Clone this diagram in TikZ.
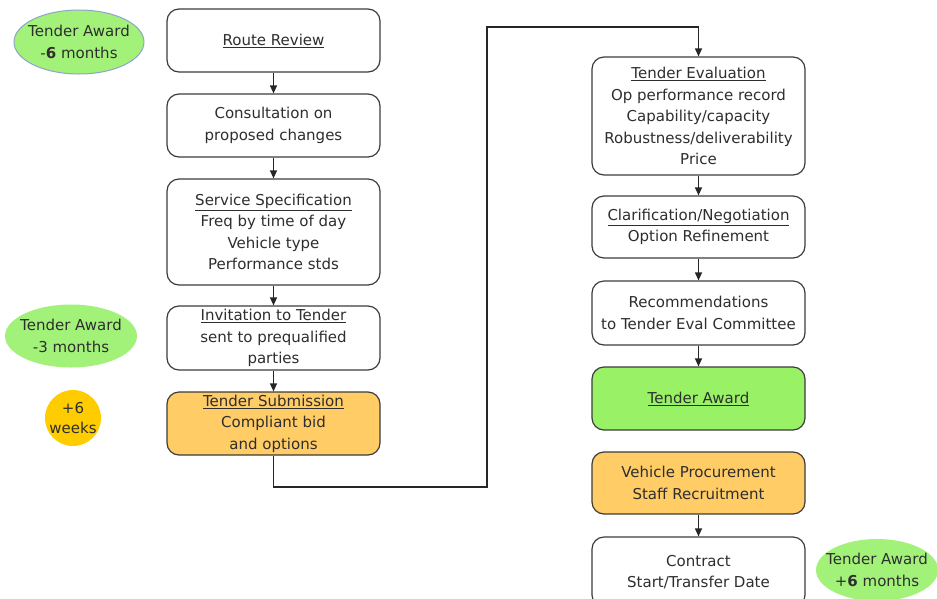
\documentclass[tikz,border=0pt]{standalone}
\usepackage{fontspec}
\setmainfont{DejaVu Sans}
\usetikzlibrary{shapes.geometric,arrows.meta}
\definecolor{txt}{HTML}{2E2E2E}
\definecolor{boxline}{HTML}{3C3C3C}
\definecolor{orangefill}{HTML}{FFCC66}
\definecolor{greenfill}{HTML}{99F266}
\definecolor{ellgreen}{HTML}{A2F27A}
\definecolor{goldfill}{HTML}{FFCC00}
\definecolor{ellborder}{HTML}{8FA3C8}
\begin{document}
\begin{tikzpicture}[x=1pt,y=-1pt,
  font=\fontsize{15}{21.5}\selectfont,
  box/.style={draw=boxline, line width=1.2pt, rounded corners=12pt,
    minimum width=213pt, inner sep=0pt, align=center, text=txt, fill=white},
  ell/.style={ellipse, fill=ellgreen, inner sep=0pt},
  elltext/.style={align=center, text=txt, inner sep=0pt},
  arr/.style={draw=black!85, line width=1.2pt, -{Triangle[length=8pt,width=7pt]}}]
\useasboundingbox (0,0) rectangle (937,598);
% left column
\node[box, minimum height=63pt] (route) at (273.5,40.5) {\underline{Route Review}};
\node[box, minimum height=63pt] (cons) at (273.5,125.5) {Consultation on\\proposed changes};
\node[box, minimum height=106pt] (spec) at (273.5,232) {\underline{Service Specification}\\Freq by time of day\\Vehicle type\\Performance stds};
\node[box, minimum height=64pt] (inv) at (273.5,338) {\underline{Invitation to Tender}\\sent to prequalified\\parties};
\node[box, minimum height=63pt, fill=orangefill] (sub) at (273.5,423.5) {\underline{Tender Submission}\\Compliant bid\\and options};
% right column
\node[box, minimum height=118pt] (eval) at (698.5,116) {\underline{Tender Evaluation}\\Op performance record\\Capability/capacity\\Robustness/deliverability\\Price};
\node[box, minimum height=62pt] (clar) at (698.5,227) {\underline{Clarification/Negotiation}\\Option Refinement};
\node[box, minimum height=64pt] (rec) at (698.5,313) {Recommendations\\to Tender Eval Committee};
\node[box, minimum height=63pt, fill=greenfill] (award) at (698.5,398.5) {\underline{Tender Award}};
\node[box, minimum height=62pt, fill=orangefill] (veh) at (698.5,483) {Vehicle Procurement\\Staff Recruitment};
\node[box, minimum height=70pt] (contract) at (698.5,572) {Contract\\Start/Transfer Date};
% timeline markers
\node[ell, draw=ellborder, line width=1pt, minimum width=130pt, minimum height=64pt] (m6) at (79,42) {};
\node[elltext] (m6t) at (m6.center) {Tender Award\\-\textbf{6} months};
\node[ell, minimum width=132pt, minimum height=63pt] (m3) at (71,336) {};
\node[elltext] (m3t) at (m3.center) {Tender Award\\-3 months};
\node[circle, fill=goldfill, minimum size=56pt, inner sep=0pt] (w6) at (73,418) {};
\node[elltext, font=\fontsize{15}{20}\selectfont] (w6t) at (w6.center) {+6\\weeks};
\node[ell, minimum width=122pt, minimum height=62pt] (p6) at (877,570) {};
\node[elltext] (p6t) at (p6.center) {Tender Award\\+\textbf{6} months};
% connectors
\draw[arr] (route) -- (cons);
\draw[arr] (cons) -- (spec);
\draw[arr] (spec) -- (inv);
\draw[arr] (inv) -- (sub);
\coordinate (c1) at (487,487);
\coordinate (c2) at (487,27);
\draw[arr] (sub.south) -- (sub.south |- c1) -- (c1) -- (c2) -| (eval.north);
\draw[arr] (eval) -- (clar);
\draw[arr] (clar) -- (rec);
\draw[arr] (rec) -- (award);
\draw[arr] (veh) -- (contract);
\end{tikzpicture}
\end{document}
